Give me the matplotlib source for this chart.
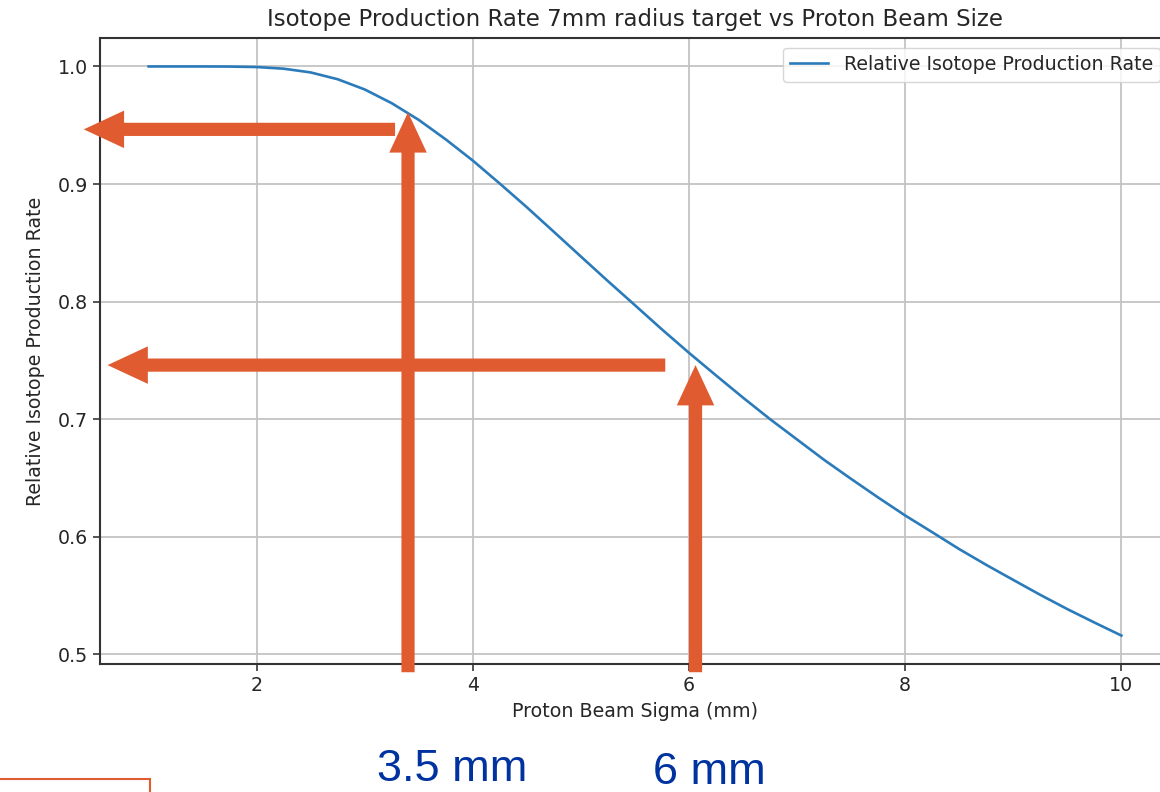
import matplotlib.pyplot as plt

# ----------------------------
# Data
# ----------------------------
sigma_mm = [1.0, 1.25, 1.5, 1.75, 2.0, 2.25, 2.5, 2.75, 3.0, 3.25, 3.5, 3.75,
            4.0, 4.25, 4.5, 4.75, 5.0, 5.25, 5.5, 5.75, 6.0, 6.25, 6.5, 6.75,
            7.0, 7.25, 7.5, 7.75, 8.0, 8.25, 8.5, 8.75, 9.0, 9.25, 9.5, 9.75, 10.0]
rel_rate = [1.0000, 1.0000, 1.0000, 0.9999, 0.9995, 0.9981, 0.9949, 0.9891,
            0.9804, 0.9687, 0.9545, 0.9379, 0.9199, 0.9003, 0.8802, 0.8593,
            0.8383, 0.8174, 0.7969, 0.7763, 0.7564, 0.7372, 0.7183, 0.7000,
            0.6827, 0.6654, 0.6492, 0.6334, 0.6181, 0.6039, 0.5895, 0.5761,
            0.5633, 0.5506, 0.5385, 0.5271, 0.5160]

# slide overlay annotations
arrow_sigma = [3.4, 6.06]        # vertical arrows (x in mm)
arrow_tip = [0.961, 0.746]       # where vertical arrows end
arrow_rate = [0.9465, 0.746]     # horizontal arrows (y level)
arrow_from = [3.28, 5.78]        # where horizontal arrows start
arrow_to = [0.40, 0.62]          # where horizontal arrows point
label_sigma = [3.81, 6.19]
labels_mm = ["3.5 mm", "6 mm"]

ORANGE = "#E05C30"
BLUE = "#0033A0"
TXT = "#262626"

# ----------------------------
# Plot
# ----------------------------
fig = plt.figure(figsize=(11.6, 7.92), dpi=100)
ax = fig.add_axes([100 / 1160, 128 / 792, 1070 / 1160, 626 / 792])

ax.plot(sigma_mm, rel_rate, color="#2b7bba", linewidth=1.9, label="Relative Isotope Production Rate")
ax.grid(True, color="#c4c4c4", linewidth=1.3)
ax.set_xticks([2, 4, 6, 8, 10])
ax.set_yticks([0.5, 0.6, 0.7, 0.8, 0.9, 1.0])
ax.tick_params(labelsize=13.7, length=5, width=1.1, colors=TXT)
ax.set_xlabel("Proton Beam Sigma (mm)", fontsize=13.7, color=TXT, labelpad=5)
ax.set_ylabel("Relative Isotope Production Rate", fontsize=13.7, color=TXT, labelpad=9.5)
ax.set_title("Isotope Production Rate 7mm radius target vs Proton Beam Size",
             fontsize=16.5, color=TXT, pad=8.5)
leg = ax.legend(loc="upper right", fontsize=13.7)
for t in leg.get_texts():
    t.set_color(TXT)
for s in ax.spines.values():
    s.set_color("#333333")
    s.set_linewidth(1.5)

ybot = ax.get_ylim()[0]
arrow_head = "simple,head_length=29,head_width=27,tail_width=9.5"
aprops = dict(arrowstyle=arrow_head, color=ORANGE, mutation_scale=1,
              shrinkA=0, shrinkB=0, lw=0)

# vertical arrows from below the x axis up to the curve
for xs, yt in zip(arrow_sigma, arrow_tip):
    ax.annotate("", xy=(xs, yt), xytext=(xs, ybot - 0.007),
                annotation_clip=False, arrowprops=aprops)
# horizontal arrows pointing to the y axis
for yr, x0, x1 in zip(arrow_rate, arrow_from, arrow_to):
    ax.annotate("", xy=(x1, yr), xytext=(x0, yr),
                annotation_clip=False, arrowprops=aprops)

for xs, dy, txt in zip(label_sigma, [-61, -63], labels_mm):
    ax.annotate(txt, xy=(xs, ybot), xycoords="data", xytext=(0, dy),
                textcoords="offset points", ha="center", va="top",
                fontsize=32.5, color=BLUE, family="Liberation Sans", annotation_clip=False)

# orange box edge in the bottom-left corner of the slide
fig.add_artist(plt.Rectangle((-0.01, -0.05), 150 / 1160 + 0.01, 0.05 + 13 / 792,
                             transform=fig.transFigure, fill=False,
                             edgecolor=ORANGE, linewidth=1.5))

plt.savefig("out.png", dpi=100)
